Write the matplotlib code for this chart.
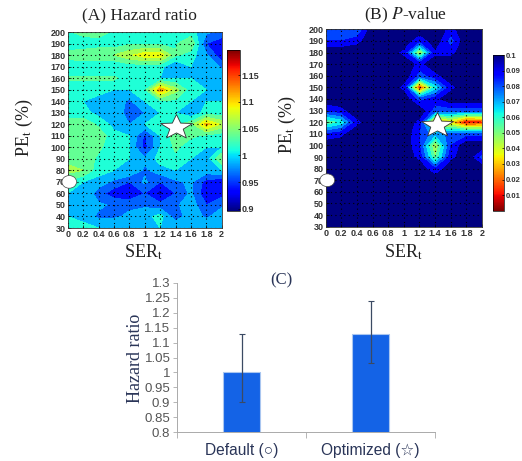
import numpy as np
import matplotlib
matplotlib.use("Agg")
import matplotlib.pyplot as plt
from matplotlib.cm import ScalarMappable
from matplotlib.colors import Normalize
from matplotlib.patches import Ellipse
from matplotlib.path import Path

W, H = 522, 461
ser = [0, .2, .4, .6, .8, 1, 1.2, 1.4, 1.6, 1.8, 2]
ser_labels = ['0', '0.2', '0.4', '0.6', '0.8', '1', '1.2', '1.4', '1.6', '1.8', '2']
pe = list(range(30, 201, 10))

hazard = [  # PE 30 -> 200
 [1.02,1.01,1.00,1.00,1.00,0.98,1.00,1.00,1.00,1.00,1.00],
 [1.00,0.99,0.97,0.97,0.98,0.99,1.01,0.96,0.99,0.97,0.99],
 [1.00,1.00,0.98,0.97,0.97,0.97,0.96,0.97,0.99,0.95,0.97],
 [1.00,1.00,0.96,0.935,0.925,0.95,0.915,0.95,0.98,0.93,0.94],
 [1.02,1.00,0.99,0.97,0.95,0.98,0.95,0.97,0.98,0.94,0.93],
 [1.06,1.05,1.01,1.00,1.00,0.97,0.99,1.00,1.00,0.99,1.00],
 [1.04,1.04,1.02,1.01,1.00,0.98,1.01,1.02,1.00,0.985,1.05],
 [1.04,1.04,1.03,1.01,1.00,0.94,1.00,1.03,1.01,1.00,1.00],
 [1.04,1.04,1.04,1.01,1.00,0.945,1.00,1.04,1.03,1.02,1.01],
 [1.04,1.04,1.02,0.99,0.975,1.00,1.01,1.02,1.04,1.11,1.07],
 [1.01,1.01,0.99,0.99,0.965,0.975,1.00,1.00,0.98,1.01,1.01],
 [1.00,1.00,0.99,0.99,0.97,1.00,1.02,1.02,1.00,1.00,1.00],
 [1.01,1.01,1.01,1.00,1.00,1.02,1.12,1.06,1.01,1.00,1.00],
 [1.03,1.03,1.03,1.03,1.01,1.00,1.00,1.00,1.00,1.00,1.00],
 [1.00,1.00,1.00,1.00,1.01,1.01,1.01,0.97,1.00,1.00,0.97],
 [1.04,1.05,1.05,1.05,1.07,1.09,1.09,1.03,1.01,0.98,0.93],
 [1.00,1.00,1.01,1.01,1.02,1.02,1.02,1.02,1.05,0.95,0.93],
 [1.02,1.04,1.04,1.02,1.01,1.01,1.01,1.01,1.01,0.98,0.97],
]

pvalue = [  # PE 30 -> 200
 [.1,.1,.1,.1,.1,.1,.1,.1,.1,.1,.1],
 [.1,.1,.1,.1,.1,.1,.1,.1,.1,.1,.1],
 [.1,.1,.1,.1,.1,.1,.1,.1,.1,.1,.1],
 [.1,.1,.1,.1,.1,.1,.1,.1,.1,.1,.1],
 [.1,.1,.1,.1,.1,.1,.1,.1,.1,.1,.1],
 [.1,.1,.1,.1,.1,.1,.1,.085,.1,.1,.1],
 [.1,.1,.1,.1,.1,.1,.09,.05,.09,.1,.08],
 [.1,.1,.1,.1,.1,.1,.085,.04,.085,.1,.1],
 [.085,.09,.1,.1,.1,.1,.085,.07,.08,.08,.08],
 [.05,.06,.09,.1,.1,.1,.09,.02,.03,.005,.01],
 [.085,.09,.1,.1,.1,.1,.1,.08,.08,.08,.08],
 [.1,.1,.1,.1,.1,.1,.08,.09,.1,.1,.1],
 [.1,.1,.1,.1,.1,.09,.01,.06,.09,.1,.1],
 [.1,.1,.1,.1,.1,.1,.08,.09,.1,.1,.1],
 [.1,.1,.1,.1,.1,.1,.09,.1,.1,.1,.1],
 [.1,.1,.1,.1,.1,.09,.04,.09,.09,.1,.1],
 [.085,.085,.09,.1,.1,.1,.085,.1,.08,.1,.1],
 [.085,.085,.075,.1,.1,.1,.1,.1,.09,.1,.1],
]

groups = ['Default (○)', 'Optimized (☆)']
group_hr = [1.0, 1.13]
group_low = [0.9, 1.03]
group_high = [1.13, 1.24]
hr_ticks = [.8, .85, .9, .95, 1, 1.05, 1.1, 1.15, 1.2, 1.25, 1.3]
hr_tick_labels = ['0.8', '0.85', '0.9', '0.95', '1', '1.05', '1.1', '1.15', '1.2', '1.25', '1.3']

SERIF = 'Liberation Serif'
SANS = 'Liberation Sans'
NAVY = '#2a3558'

# five-pointed star, stretched sideways as in the reference
_ang = np.pi / 2 + np.arange(11) * np.pi / 5
_rad = np.where(np.arange(11) % 2 == 0, 1.0, 0.42)
STAR = Path(np.column_stack([1.3 * _rad * np.cos(_ang), _rad * np.sin(_ang)]), closed=True)

fig = plt.figure(figsize=(W / 100, H / 100), dpi=100)

def box(x0, y0, x1, y1):
    return fig.add_axes([x0 / W, 1 - y1 / H, (x1 - x0) / W, (y1 - y0) / H])

def ftext(x, y, s, **kw):
    kw.setdefault('ha', 'center'); kw.setdefault('va', 'center')
    fig.text(x / W, 1 - y / H, s, **kw)

def contour_panel(rect, z, cmap, vmin, vmax, levels, star_x):
    ax = box(*rect)
    ax.contourf(ser, pe, np.array(z), levels=levels, cmap=cmap, vmin=vmin, vmax=vmax, extend='both')
    ax.set_xlim(0, 2); ax.set_ylim(30, 200)
    ax.set_xticks(ser, ser_labels)
    ax.set_yticks(pe)
    ax.tick_params(labelsize=6.5, length=2, width=.5, pad=1.5, direction='in')
    for lab in ax.get_xticklabels() + ax.get_yticklabels():
        lab.set_family(SANS); lab.set_fontweight('bold'); lab.set_color('#333333')
    ax.grid(True, color='black', ls=(0, (1, 3)), lw=.8)
    for s in ax.spines.values():
        s.set_linewidth(.6); s.set_color('#333333')
    ax.plot([star_x], [118], marker=STAR, ms=23, mfc='white', mec='#333333', mew=.6, ls='none', zorder=5, clip_on=False)
    ax.add_patch(Ellipse((0.02, 70), 0.19, 11, fc='white', ec='#444444', lw=.5, zorder=5, clip_on=False))
    return ax

def bar_scale(rect, cmap, vmin, vmax, ticks, labels, size):
    cax = box(*rect)
    sm = ScalarMappable(norm=Normalize(vmin, vmax), cmap=cmap)
    cb = fig.colorbar(sm, cax=cax)
    cb.set_ticks(ticks, labels=labels)
    cb.ax.tick_params(labelsize=size, length=1.5, width=.5, pad=1, direction='in')
    for lab in cb.ax.get_yticklabels():
        lab.set_family(SANS); lab.set_fontweight('bold'); lab.set_color('#333333')
    cb.outline.set_linewidth(.5)

# Panel A
contour_panel((67.7, 32, 221.7, 228), hazard, 'jet', .896, 1.197, np.arange(.9, 1.2, .025), 1.4)
bar_scale((227, 50, 240, 211), 'jet', .896, 1.197, [.9, .95, 1, 1.05, 1.1, 1.15], ['0.9', '0.95', '1', '1.05', '1.1', '1.15'], 6.5)
ftext(139, 15, '(A) Hazard ratio', family=SERIF, fontsize=12.5, color='#222222')
ftext(24, 128, 'PE$_{\\mathrm{t}}$ (%)', fontsize=13, rotation=90, color='#222222', family=SERIF, math_fontfamily='stix')
ftext(143, 252, 'SER$_{\\mathrm{t}}$', fontsize=13, color='#222222', family=SERIF, math_fontfamily='stix')

# Panel B
contour_panel((325.7, 29.3, 482, 226.7), pvalue, 'jet_r', 0, .1, np.arange(0, .1001, .0085), 1.42)
bar_scale((492.7, 55, 504, 210.7), 'jet_r', 0, .1, [.01, .02, .03, .04, .05, .06, .07, .08, .09, .1],
          ['0.01', '0.02', '0.03', '0.04', '0.05', '0.06', '0.07', '0.08', '0.09', '0.1'], 5.5)
ftext(405, 15, '(B) $\\mathit{P}$-value', family=SERIF, fontsize=12.5, color='#222222', math_fontfamily='stix')
ftext(287, 125, 'PE$_{\\mathrm{t}}$ (%)', fontsize=13, rotation=90, color='#222222', family=SERIF, math_fontfamily='stix')
ftext(403, 252, 'SER$_{\\mathrm{t}}$', fontsize=13, color='#222222', family=SERIF, math_fontfamily='stix')

# Panel C
ax = box(177.3, 282.7, 435, 432.3)
xpos = [0.5, 1.5]
err = [[v - l for v, l in zip(group_hr, group_low)], [h - v for v, h in zip(group_hr, group_high)]]
ax.bar(xpos, group_hr, width=.285, color='#1463e6', edgecolor='#a9c6f0', linewidth=.8)
ax.errorbar(xpos, group_hr, yerr=err, fmt='none', ecolor='#3b4a63', elinewidth=.9, capsize=2, capthick=.8)
ax.set_xlim(0, 2); ax.set_ylim(.8, 1.3)
ax.set_yticks(hr_ticks, hr_tick_labels)
ax.set_xticks(xpos, groups)
ax.set_xticks([0, 1, 2], minor=True)
ax.tick_params(axis='x', which='major', length=0, pad=8, labelsize=11.2, labelcolor=NAVY)
ax.tick_params(axis='x', which='minor', length=4, width=.6, color='#aaaaaa', direction='out')
ax.tick_params(axis='y', length=3, width=.6, color='#aaaaaa', pad=2, labelsize=9.5, labelcolor='#555555')
for lab in ax.get_xticklabels():
    lab.set_family([SANS, 'DejaVu Sans'])
for lab in ax.get_yticklabels():
    lab.set_family(SANS)
for s in ('top', 'right'):
    ax.spines[s].set_visible(False)
for s in ('left', 'bottom'):
    ax.spines[s].set_color('#aaaaaa'); ax.spines[s].set_linewidth(.7)
ftext(281.7, 280, '(C)', family=SERIF, fontsize=12, color=NAVY)
ftext(136, 358, 'Hazard ratio', family=SERIF, fontsize=13, rotation=90, color=NAVY)

fig.savefig('out.png', dpi=100)
